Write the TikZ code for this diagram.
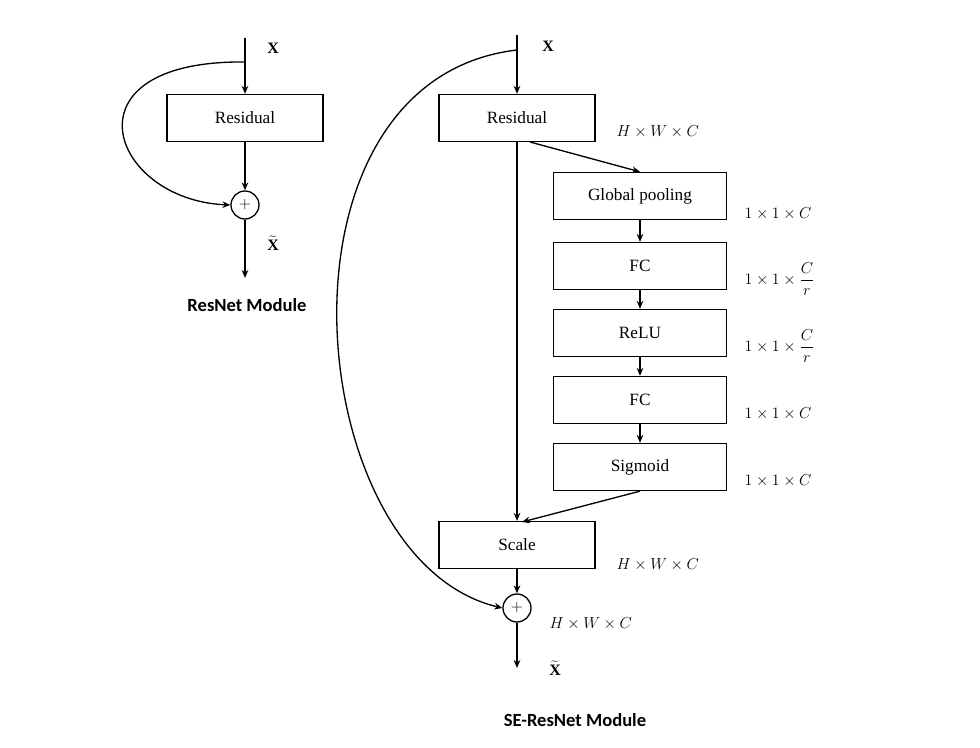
\documentclass[tikz,border=0pt]{standalone}
\usepackage{fontspec}
\setmainfont{Liberation Serif}
\newfontfamily\capfont{Carlito}
\usetikzlibrary{arrows.meta}
\begin{document}
\begin{tikzpicture}[x=0.0265cm,y=-0.0265cm,
  box/.style={draw,line width=1pt,minimum height=47*0.0265cm,inner sep=0pt,font=\fontsize{13}{15}\selectfont},
  ln/.style={line width=1pt},
  ar/.style={line width=1pt,-{Stealth[length=6pt,width=5pt]}},
  sum/.style={draw,circle,line width=1pt,minimum size=28*0.0265cm,inner sep=0pt},
  dim/.style={font=\fontsize{13}{15}\selectfont,anchor=west}]
\useasboundingbox (0,0) rectangle (980,748);
% left
\coordinate (lx) at (245,38);
\node[box,minimum width=156*0.0265cm] (lres) at (245,118) {Residual};
\node[sum] (lsum) at (245,205) {\large$+$};
\coordinate (lout) at (245,278);
\coordinate (lsplit) at (245,62);
\draw[ar] (lx) -- (lres.north);
\draw[ar] (lres.south) -- (lsum.north);
\draw[ar] (lsum.south) -- (lout);
\draw[ar] (lsplit) .. controls (60,60) and (110,200) .. (lsum.west);
\node (lxl) at (273,48) {\large$\mathbf{X}$};
\node (lxt) at (273,243) {\large$\widetilde{\mathbf{X}}$};
\node[font=\capfont\bfseries\fontsize{14}{16}\selectfont] (lcap) at (247,305) {ResNet Module};
% right
\coordinate (rx) at (517,35);
\node[box,minimum width=156*0.0265cm] (rres) at (517,118) {Residual};
\node[box,minimum width=173*0.0265cm] (gp) at (640,196) {Global pooling};
\node[box,minimum width=173*0.0265cm] (fc1) at (640,266) {FC};
\node[box,minimum width=173*0.0265cm] (relu) at (640,333) {ReLU};
\node[box,minimum width=173*0.0265cm] (fc2) at (640,400) {FC};
\node[box,minimum width=173*0.0265cm] (sig) at (640,467) {Sigmoid};
\node[box,minimum width=156*0.0265cm] (scale) at (517,545) {Scale};
\node[sum] (rsum) at (517,608) {\large$+$};
\coordinate (rout) at (517,668);
\coordinate (rsplit) at (517,50);
\coordinate (rb) at (530,142);
\coordinate (st) at (522,522);
\draw[ar] (rx) -- (rres.north);
\draw[ar] (rres.south) -- (scale.north-|rres.south);
\draw[ar] (rb) -- (gp.north);
\draw[ar] (gp) -- (fc1);
\draw[ar] (fc1) -- (relu);
\draw[ar] (relu) -- (fc2);
\draw[ar] (fc2) -- (sig);
\draw[ar] (sig.south) -- (st);
\draw[ar] (scale.south) -- (rsum.north);
\draw[ar] (rsum.south) -- (rout);
\draw[ar] (rsplit) .. controls (260,80) and (300,560) .. (rsum.west);
\node (rxl) at (548,46) {\large$\mathbf{X}$};
\node (rxt) at (555,668) {\large$\widetilde{\mathbf{X}}$};
\node[dim] (d0) at (612,132) {$H\times W\times C$};
\node[dim] (d1) at (740,214) {$1\times 1\times C$};
\node[dim] (d2) at (740,279) {$1\times 1\times \displaystyle\frac{C}{r}$};
\node[dim] (d3) at (740,346) {$1\times 1\times \displaystyle\frac{C}{r}$};
\node[dim] (d4) at (740,414) {$1\times 1\times C$};
\node[dim] (d5) at (740,481) {$1\times 1\times C$};
\node[dim] (d6) at (612,565) {$H\times W\times C$};
\node[dim] (d7) at (545,624) {$H\times W\times C$};
\node[font=\capfont\bfseries\fontsize{14}{16}\selectfont] (rcap) at (575,720) {SE-ResNet Module};
\end{tikzpicture}
\end{document}
